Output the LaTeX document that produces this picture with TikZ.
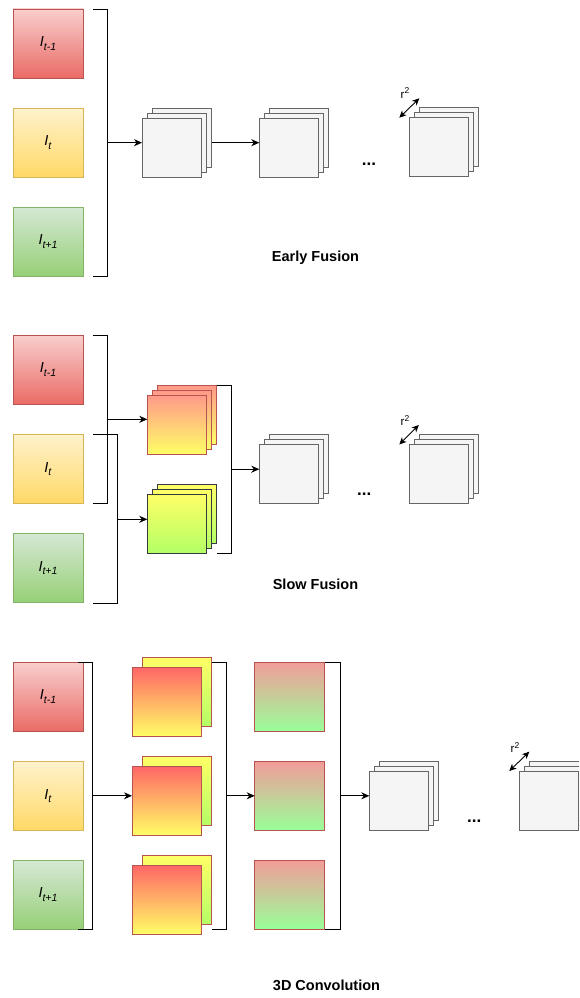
\documentclass[tikz,border=0pt]{standalone}
\usepackage{fontspec}
\setmainfont{Liberation Sans}
\usetikzlibrary{arrows.meta}
\definecolor{redT}{HTML}{F8CECC}
\definecolor{redB}{HTML}{EA6B66}
\definecolor{redD}{HTML}{B85450}
\definecolor{ylwT}{HTML}{FFF2CC}
\definecolor{ylwB}{HTML}{FFD966}
\definecolor{ylwD}{HTML}{D6B656}
\definecolor{grnT}{HTML}{D5E8D4}
\definecolor{grnB}{HTML}{97D077}
\definecolor{grnD}{HTML}{82B366}
\definecolor{grayF}{HTML}{F5F5F5}
\definecolor{grayD}{HTML}{666666}
\definecolor{salmon}{HTML}{FF9A8A}
\definecolor{lemon}{HTML}{FFFF66}
\definecolor{lime}{HTML}{B3FF66}
\definecolor{strongred}{HTML}{FF6666}
\definecolor{rgT}{HTML}{F19C99}
\definecolor{rgB}{HTML}{99FF99}
\definecolor{darkline}{HTML}{36393D}
\newcommand\mkstack[4]{%
  \node[#4] (#1c) at (#2+10,#3-10) {};
  \node[#4] (#1b) at (#2+5,#3-5) {};
  \node[#4] (#1) at (#2,#3) {};}
\newcommand\frm[1]{\textit{I}\raisebox{-3.5pt}{\fontsize{10.5}{12}\selectfont\textit{#1}}}
\newcommand\rsq{r\raisebox{4.5pt}{\fontsize{8.5}{9}\selectfont 2}}
\begin{document}
\begin{tikzpicture}[x=1pt,y=-1pt,
  every node/.style={inner sep=0,outer sep=0},
  inbox/.style={draw,line width=0.9pt,minimum width=70pt,minimum height=69pt,anchor=north west,font=\fontsize{14.5}{16}\selectfont},
  redbox/.style={inbox,draw=redD,top color=redT,bottom color=redB},
  ylwbox/.style={inbox,draw=ylwD,top color=ylwT,bottom color=ylwB},
  grnbox/.style={inbox,draw=grnD,top color=grnT,bottom color=grnB},
  layer/.style={draw=grayD,fill=grayF,line width=0.9pt,minimum width=59.5pt,minimum height=59pt,anchor=north west},
  sallayer/.style={layer,draw=redD,top color=salmon,bottom color=lemon},
  limelayer/.style={layer,draw=darkline,top color=lemon,bottom color=lime},
  frontsq/.style={draw=redD,line width=0.9pt,minimum width=69.7pt,minimum height=69.5pt,anchor=north west,top color=strongred,bottom color=lemon},
  backsq/.style={frontsq,top color=lemon,bottom color=lime},
  rgsq/.style={frontsq,minimum width=69.6pt,minimum height=69pt,top color=rgT,bottom color=rgB},
  brk/.style={draw=black,line width=0.9pt},
  arr/.style={draw=black,line width=0.9pt,-{Stealth[length=8pt,width=7pt,inset=2.5pt]}},
  darr/.style={draw=black,line width=0.9pt,{Stealth[length=7pt,width=6.5pt,inset=2pt]}-{Stealth[length=7pt,width=6.5pt,inset=2pt]}},
  title/.style={font=\bfseries\fontsize{14.5}{17}\selectfont},
  dots/.style={font=\bfseries\fontsize{17}{18}\selectfont},
  rlab/.style={font=\fontsize{11.5}{13}\selectfont}]
\useasboundingbox (0,0) rectangle (579,998);
\clip (0,0) rectangle (579,998);
\fill[white] (0,0) rectangle (579,998);

% ---------------- Early Fusion ----------------
\node[redbox] (ea) at (13,9) {\frm{t-1}};
\node[ylwbox] (eb) at (13,108) {\frm{t}};
\node[grnbox] (ec) at (13,207) {\frm{t+1}};
\draw[brk] (93,9) -- (107,9) -- (107,276) -- (93,276);
\coordinate (eb1) at (107,142.7);
\mkstack{es1}{142}{118}{layer}
\mkstack{es2}{259.3}{118.3}{layer}
\mkstack{es3}{409}{117.7}{layer}
\draw[arr] (eb1) -- (eb1 -| es1.west);
\draw[arr] (es1c.east |- eb1) -- (eb1 -| es2.west);
\node[dots] (ed) at (369,164) {...};
\node[rlab] (er) at (405,93) {\rsq};
\coordinate (era) at (399.3,117.7);
\coordinate (erb) at (419.3,98.3);
\draw[darr] (era) -- (erb);
\node[title] (et) at (315.5,258) {Early Fusion};

% ---------------- Slow Fusion ----------------
\node[redbox] (sa) at (13,335.3) {\frm{t-1}};
\node[ylwbox] (sb) at (13,434.5) {\frm{t}};
\node[grnbox] (sc) at (13,533.5) {\frm{t+1}};
\mkstack{ss1}{147.3}{395.5}{sallayer}
\mkstack{ss2}{147.3}{494.3}{limelayer}
\draw[brk] (93,335.3) -- (107,335.3) -- (107,503.7) -- (93,503.7);
\draw[brk] (93,434.7) -- (117.3,434.7) -- (117.3,603) -- (93,603);
\coordinate (sbA) at (107,419.3);
\coordinate (sbB) at (117.3,519.3);
\draw[arr] (sbA) -- (sbA -| ss1.west);
\draw[arr] (sbB) -- (sbB -| ss2.west);
\draw[brk] (216.7,385) -- (231,385) -- (231,553.3) -- (216.7,553.3);
\coordinate (sbC) at (231,469.2);
\mkstack{ss3}{259.3}{444.3}{layer}
\mkstack{ss4}{409.3}{444.3}{layer}
\draw[arr] (sbC) -- (sbC -| ss3.west);
\node[dots] (sd) at (364.3,494) {...};
\node[rlab] (sr) at (405,420.5) {\rsq};
\coordinate (sra) at (399.3,444.5);
\coordinate (srb) at (418.8,425);
\draw[darr] (sra) -- (srb);
\node[title] (st) at (315.5,584) {Slow Fusion};

% ---------------- 3D Convolution ----------------
\node[redbox] (ca) at (13,662.3) {\frm{t-1}};
\node[ylwbox] (cb) at (13,761.5) {\frm{t}};
\node[grnbox] (cc) at (13,860.3) {\frm{t+1}};
\draw[brk] (78,662.3) -- (92.3,662.3) -- (92.3,929.3) -- (78,929.3);
\coordinate (cb1) at (92.3,795.8);
\node[backsq] (cp1b) at (142,657.3) {};
\node[frontsq] (cp1) at (132,667) {};
\node[backsq] (cp2b) at (142,756.3) {};
\node[frontsq] (cp2) at (132,766) {};
\node[backsq] (cp3b) at (142,855.3) {};
\node[frontsq] (cp3) at (132,865) {};
\draw[arr] (cb1) -- (cb1 -| cp2.west);
\draw[brk] (211.7,662.3) -- (226.7,662.3) -- (226.7,929.3) -- (211.7,929.3);
\coordinate (cb2) at (226.7,795.8);
\node[rgsq] (cr1) at (254.7,662.3) {};
\node[rgsq] (cr2) at (254.7,761.5) {};
\node[rgsq] (cr3) at (254.7,860.3) {};
\draw[arr] (cb2) -- (cb2 -| cr2.west);
\draw[brk] (325,662.3) -- (340,662.3) -- (340,929.3) -- (325,929.3);
\coordinate (cb3) at (340,795.8);
\mkstack{cs1}{369.3}{771}{layer}
\mkstack{cs2}{519}{771}{layer}
\draw[arr] (cb3) -- (cb3 -| cs1.west);
\node[dots] (cd) at (474.3,821) {...};
\node[rlab] (cr) at (515,747.5) {\rsq};
\coordinate (cra) at (509.3,771);
\coordinate (crb) at (529.3,751.7);
\draw[darr] (cra) -- (crb);
\node[title] (ct) at (326.5,985) {3D Convolution};
\end{tikzpicture}
\end{document}
